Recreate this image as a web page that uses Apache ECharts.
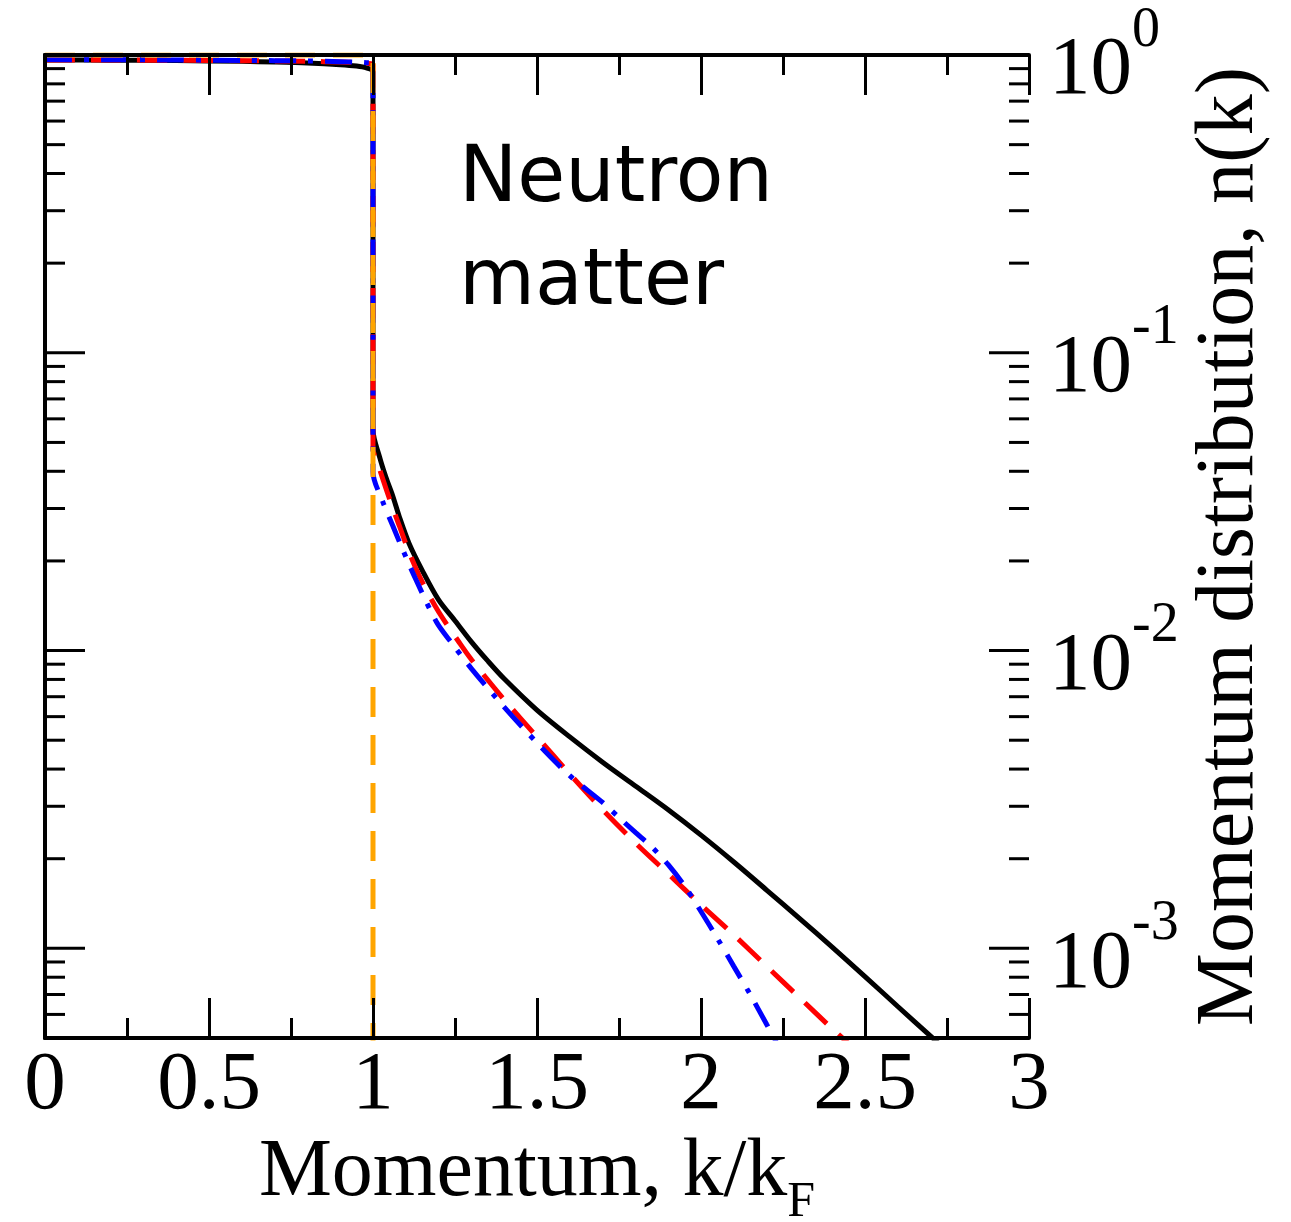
<!DOCTYPE html>
<html><head><meta charset="utf-8">
<script src="https://cdn.jsdelivr.net/npm/echarts@6/dist/echarts.min.js"></script>
<style>html,body{margin:0;padding:0;background:#fff}#c{width:1291px;height:1222px}</style>
</head><body><div id="c"></div>
<script>
// ---- data ----
const xTickLabels = ['0', '0.5', '1', '1.5', '2', '2.5', '3'];
const kBlack = [0, 0.2, 0.4, 0.6, 0.7, 0.8, 0.9, 0.95, 0.98, 1.0, 1.0, 1.02, 1.04, 1.06, 1.08, 1.11, 1.15, 1.2, 1.25, 1.3, 1.35, 1.4, 1.5, 1.6, 1.7, 1.8, 1.9, 2.0, 2.1, 2.2, 2.3, 2.4, 2.5, 2.6, 2.7, 2.75];
const nBlack = [0.962, 0.961, 0.958, 0.952, 0.947, 0.940, 0.928, 0.918, 0.905, 0.88, 0.055, 0.0447, 0.038, 0.0331, 0.0282, 0.0229, 0.0186, 0.0148, 0.0126, 0.0107, 0.00923, 0.00804, 0.00631, 0.00513, 0.00422, 0.00351, 0.00292, 0.0024, 0.00195, 0.00157, 0.00126, 0.00101, 0.000804, 0.000638, 0.000507, 0.000452];
const kRed = [0, 0.2, 0.4, 0.6, 0.8, 0.9, 0.95, 0.98, 1.0, 1.0, 1.02, 1.05, 1.08, 1.11, 1.15, 1.2, 1.264, 1.3, 1.4, 1.5, 1.6, 1.7, 1.8, 1.9, 2.0, 2.1, 2.2, 2.3, 2.4, 2.45];
const nRed = [0.963, 0.962, 0.960, 0.957, 0.952, 0.947, 0.943, 0.938, 0.93, 0.048, 0.0407, 0.0324, 0.0263, 0.0214, 0.017, 0.0135, 0.0106, 0.00933, 0.00684, 0.00513, 0.00385, 0.00292, 0.00226, 0.00178, 0.0014, 0.00111, 0.000871, 0.000684, 0.000537, 0.000479];
const kBlue = [0, 0.2, 0.4, 0.6, 0.8, 0.9, 0.95, 0.98, 1.0, 1.0, 1.03, 1.06, 1.09, 1.13, 1.194, 1.24, 1.3, 1.4, 1.5, 1.6, 1.7, 1.75, 1.8, 1.85, 1.9, 1.95, 2.0, 2.05, 2.1, 2.15, 2.2, 2.23];
const nBlue = [0.965, 0.964, 0.962, 0.959, 0.955, 0.950, 0.946, 0.942, 0.935, 0.0398, 0.0316, 0.0263, 0.0219, 0.0174, 0.01245, 0.0106, 0.0087, 0.00646, 0.0049, 0.0038, 0.00309, 0.00275, 0.00245, 0.00219, 0.00191, 0.00162, 0.00133, 0.00108, 0.00087, 0.0007, 0.000556, 0.000484];
const kStep = [0, 1, 1];
const nStep = [1, 1, 1e-6];
const yMin = 0.0005, yMax = 1;

// ---- helpers ----
const zip = (a, b) => a.map((v, i) => [v, b[i]]);
const yTicks = [];
for (let e = -4; e <= 0; e++) {
  for (let m = 1; m <= 9; m++) {
    const v = m * Math.pow(10, e);
    if (v > yMin && v <= yMax * 1.0000001) yTicks.push([m === 1 ? 40 : 20, v]);
  }
}
const serif = 'Liberation Serif';
const tickStyle = { color: '#000', width: 3 };

const chart = echarts.init(document.getElementById('c'), null, { renderer: 'canvas' });
const xCommon = {
  type: 'value', min: 0, max: 3, interval: 0.5, z: 3,
  axisLine: { show: true, lineStyle: { color: '#000', width: 4 } },
  axisTick: { show: true, inside: true, length: 40, lineStyle: tickStyle },
  minorTick: { show: true, splitNumber: 2, length: 20, lineStyle: tickStyle },
  splitLine: { show: false }, minorSplitLine: { show: false }
};
const yCommon = {
  type: 'log', logBase: 10, min: yMin, max: yMax, z: 3,
  axisLine: { show: true, lineStyle: { color: '#000', width: 4 } },
  axisTick: { show: false },
  minorTick: { show: false },
  splitLine: { show: false }, minorSplitLine: { show: false }
};
const option = {
  animation: false,
  backgroundColor: '#fff',
  grid: { left: 45, top: 55, width: 984, height: 983, outerBoundsMode: 'none', containLabel: false },
  xAxis: [
    Object.assign({}, xCommon, {
      position: 'bottom',
      axisLabel: {
        show: true, margin: 7, color: '#000', fontFamily: serif, fontSize: 83, lineHeight: 83,
        formatter: (v) => xTickLabels[Math.round(v / 0.5)]
      },
      name: '{m|Momentum, k/k}{f|F}',
      nameLocation: 'middle', nameGap: 75,
      nameTextStyle: {
        rich: {
          m: { fontFamily: serif, fontSize: 82, lineHeight: 82, color: '#000', verticalAlign: 'top' },
          f: { fontFamily: serif, fontSize: 50, lineHeight: 50, color: '#000', verticalAlign: 'top', padding: [45, 0, 0, 0] }
        }
      }
    }),
    Object.assign({}, xCommon, { position: 'top', axisLabel: { show: false } })
  ],
  yAxis: [
    Object.assign({}, yCommon, {
      position: 'right',
      axisLabel: {
        show: true, margin: 20, color: '#000', showMinLabel: false, padding: [6, 0, 0, 0],
        formatter: (v) => {
          const e = Math.log10(v), r = Math.round(e);
          if (Math.abs(e - r) > 1e-6) return '';
          return '{b|10}{s|' + (r === 0 ? '0' : String(r)) + '}';
        },
        rich: {
          b: { fontFamily: serif, fontSize: 83, lineHeight: 83, color: '#000', verticalAlign: 'bottom' },
          s: { fontFamily: serif, fontSize: 56, lineHeight: 110, color: '#000', verticalAlign: 'top' }
        }
      },
      name: 'Momentum distribution, n(k)',
      nameLocation: 'middle', nameRotate: 90, nameGap: 156,
      nameTextStyle: { fontFamily: serif, fontSize: 82, color: '#000' }
    }),
    Object.assign({}, yCommon, { position: 'left', axisLabel: { show: false } })
  ],
  graphic: [{
    type: 'text', left: 459, top: 129, z: 10,
    style: { text: 'Neutron\nmatter', font: '78px "DejaVu Sans"', lineHeight: 103, fill: '#000' }
  }],
  series: [
    {
      type: 'custom', xAxisIndex: 0, yAxisIndex: 0, silent: true, clip: false, z: 4,
      data: yTicks,
      renderItem: (params, api) => {
        const len = api.value(0);
        const v = api.value(1);
        const pL = api.coord([0, v]);
        const pR = api.coord([3, v]);
        return { type: 'group', children: [
          { type: 'line', shape: { x1: pL[0], y1: pL[1], x2: pL[0] + len, y2: pL[1] }, style: { stroke: '#000', lineWidth: 3 } },
          { type: 'line', shape: { x1: pR[0], y1: pR[1], x2: pR[0] - len, y2: pR[1] }, style: { stroke: '#000', lineWidth: 3 } }
        ] };
      }
    },
    { type: 'line', name: 'black', data: zip(kBlack, nBlack), showSymbol: false, symbol: 'none', z: 2, smooth: 0.3,
      lineStyle: { color: '#000', width: 5, type: 'solid' } },
    { type: 'line', name: 'red', data: zip(kRed, nRed), showSymbol: false, symbol: 'none', z: 2, smooth: 0.3,
      lineStyle: { color: '#ff0000', width: 5, type: [30, 16] } },
    { type: 'line', name: 'blue', data: zip(kBlue, nBlue), showSymbol: false, symbol: 'none', z: 2, smooth: 0.3,
      lineStyle: { color: '#0000ff', width: 5, type: [27, 12, 5, 12] } },
    { type: 'line', name: 'orange', data: zip(kStep, nStep), showSymbol: false, symbol: 'none', z: 2,
      lineStyle: { color: '#ffa500', width: 5, type: [30, 18] } }
  ]
};
chart.setOption(option);
</script>
</body></html>
